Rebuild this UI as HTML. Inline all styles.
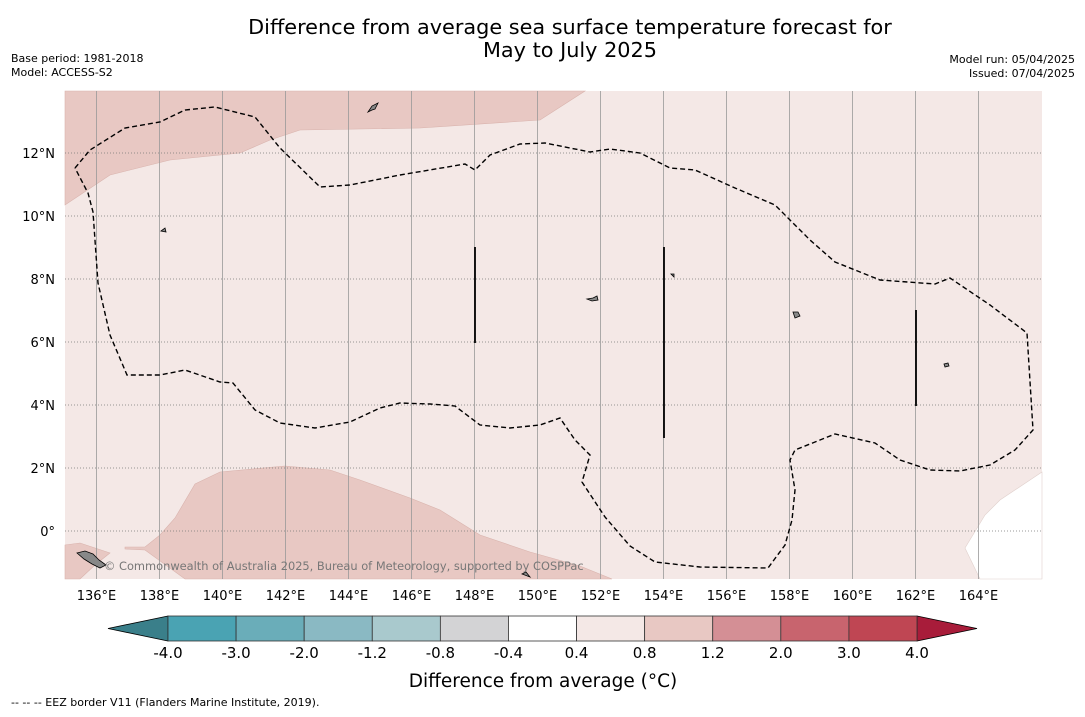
<!DOCTYPE html>
<html><head><meta charset="utf-8"><style>
body{margin:0;background:#fff;font-family:"DejaVu Sans","Liberation Sans",sans-serif}
</style></head><body>
<svg width="1085" height="713" xmlns="http://www.w3.org/2000/svg" font-family="DejaVu Sans, Liberation Sans, sans-serif">
<text x="570" y="34" font-size="20.8" text-anchor="middle">Difference from average sea surface temperature forecast for</text>
<text x="570" y="57" font-size="20.8" text-anchor="middle">May to July 2025</text>
<text x="11" y="62" font-size="11">Base period: 1981-2018</text>
<text x="11" y="76" font-size="11">Model: ACCESS-S2</text>
<text x="1075" y="63" font-size="11" text-anchor="end">Model run: 05/04/2025</text>
<text x="1075" y="77" font-size="11" text-anchor="end">Issued: 07/04/2025</text>
<g id="map">
<rect x="65" y="91" width="977" height="488" fill="#f4e8e6"/>
<polygon fill="#e8c8c3" stroke="#d9b3ad" stroke-width="0.6" points="65,91 585,91 540,120 420,128 300,130 270,140 240,153 170,160 110,175 65,205"/>
<polygon fill="#e8c8c3" stroke="#d9b3ad" stroke-width="0.6" points="65,545 80,543 110,553 95,565 80,579 65,579"/>
<polygon fill="#e8c8c3" stroke="#d9b3ad" stroke-width="0.6" points="125,547 145,547 160,535 175,518 195,484 220,472 285,466 330,470 360,480 410,498 440,510 480,535 530,552 580,566 612,579 185,579 145,550 125,549"/>
<polygon fill="#ffffff" stroke="#e0d0cc" stroke-width="0.6" points="1042,472 1000,500 985,515 965,548 980,579 1042,579"/>
<g id="grid"></g>
<polyline fill="none" stroke="#000" stroke-width="1.4" stroke-dasharray="5,3" points="75,168 90,150 125,128 160,122 185,110 215,107 255,117 280,148 320,187 350,185 400,175 465,164 475,170 490,155 520,144 545,143 570,148 590,152 610,149 640,153 670,168 695,170 735,188 775,205 790,220 810,240 835,262 880,280 935,284 950,278 990,305 1027,333 1033,430 1015,450 990,465 960,471 930,470 900,460 875,443 835,434 820,440 795,450 790,460 795,490 792,520 785,545 768,568 700,567 655,562 630,546 605,517 582,482 590,455 575,440 560,418 540,425 510,428 480,425 455,406 430,404 400,403 380,408 350,422 315,428 280,423 255,410 233,383 220,382 185,370 160,375 127,375 110,335 98,283 93,212 88,193 75,168"/>
<g stroke="#000" stroke-width="1.8">
<line x1="475" y1="247" x2="475" y2="343"/><line x1="664" y1="247" x2="664" y2="438"/><line x1="916" y1="310" x2="916" y2="406"/>
</g>
<g fill="#888" stroke="#000" stroke-width="0.8">
<path d="M368,112 l4,-6 l6,-3 l-3,6 l-3,1 z"/>
<path d="M77,553 l8,-2 l8,3 l6,6 l7,5 l-6,3 l-8,-4 l-8,-5 z"/>
<path d="M793,312 l5,0 l2,4 l-5,2 z"/>
<path d="M587,299 l6,-1 l4,-2 l1,4 l-6,1 z"/>
<path d="M161,231 l4,-3 l1,4 z"/>
<path d="M944,364 l4,-1 l1,3 l-4,1 z"/>
<path d="M522,574 l4,-2 l4,5 z"/>
<path d="M671,274 l3,0 l0,3 z"/>
</g>
<text x="104" y="570" font-size="11.4" fill="#777">© Commonwealth of Australia 2025, Bureau of Meteorology, supported by COSPPac</text>
</g>
<g id="xt"></g>
<g id="yt"></g>
<g id="cb"></g>
<text x="543" y="687" font-size="18.5" text-anchor="middle">Difference from average (°C)</text>
<text x="11" y="706" font-size="11">--  --  -- EEZ border V11 (Flanders Marine Institute, 2019).</text>
</svg>
<script>
const lonTicks=[136,138,140,142,144,146,148,150,152,154,156,158,160,162,164];
const latTicks=[0,2,4,6,8,10,12];
const cbBounds=["-4.0","-3.0","-2.0","-1.2","-0.8","-0.4","0.4","0.8","1.2","2.0","3.0","4.0"];
const cbColors=["#4aa3b3","#6aadb9","#8ab9c3","#a9c9cd","#d3d3d5","#ffffff","#f4e8e6","#e8c8c3","#d48f95","#c8646e","#bf4653"];
const NS="http://www.w3.org/2000/svg";
const xS=lon=>65+(lon-135)*31.5;
const yS=lat=>531-lat*31.5;
function mk(t,a,p){const e=document.createElementNS(NS,t);for(const k in a)e.setAttribute(k,a[k]);p.appendChild(e);return e;}
const grid=document.getElementById('grid');
lonTicks.forEach(l=>{const e=mk('line',{x1:xS(l),x2:xS(l),y1:91,y2:579,stroke:'#999','stroke-width':0.8},grid);


const t=mk('text',{x:xS(l),y:600,'font-size':13,'text-anchor':'middle'},document.getElementById('xt'));t.textContent=l+'°E';

});
latTicks.forEach(l=>{const e=mk('line',{x1:65,x2:1042,y1:yS(l),y2:yS(l),stroke:'#777','stroke-width':0.8,'stroke-dasharray':'1,2'},grid);


const t=mk('text',{x:55,y:yS(l)+5,'font-size':13,'text-anchor':'end'},document.getElementById('yt'));t.textContent=l===0?'0°':l+'°N';

});
const cb=document.getElementById('cb');const x0=168,x1=917,w=(x1-x0)/cbColors.length,y0=616,h=25;
const lt=mk('polygon',{points:`${x0},${y0} 108,${y0+h/2} ${x0},${y0+h}`,fill:'#3a7f8a',stroke:'#000','stroke-width':0.8},cb);


const rt=mk('polygon',{points:`${x1},${y0} 977,${y0+h/2} ${x1},${y0+h}`,fill:'#a81c3a',stroke:'#000','stroke-width':0.8},cb);


cbColors.forEach((c,i)=>{const r=mk('rect',{x:x0+i*w,y:y0,width:w,height:h,fill:c,stroke:'#333','stroke-width':0.8},cb);

});
cbBounds.forEach((b,i)=>{const t=mk('text',{x:x0+i*w,y:658,'font-size':15,'text-anchor':'middle'},cb);t.textContent=b;

});
</script>
</body></html>
